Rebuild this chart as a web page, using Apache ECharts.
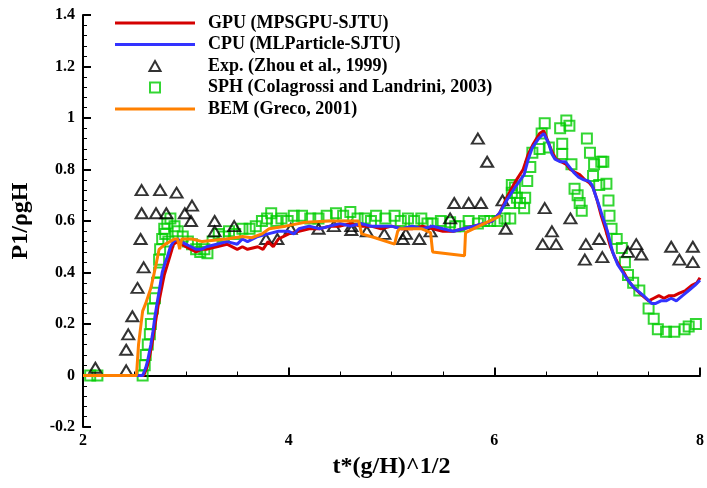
<!DOCTYPE html>
<html>
<head>
<meta charset="utf-8">
<script src="https://cdn.jsdelivr.net/npm/echarts@6/dist/echarts.min.js"></script>
<style>
  html, body { margin: 0; padding: 0; background: #fff; }
  #chart { width: 707px; height: 488px; }
</style>
</head>
<body>
<div id="chart"></div>
<script>
  // GPU (MPSGPU-SJTU), red line
  const gpuData = [[2.0,0],[2.3,0],[2.59,0],[2.62,0.03],[2.64,0.06],[2.67,0.12],[2.69,0.17],[2.71,0.22],[2.73,0.27],[2.76,0.33],[2.79,0.39],[2.82,0.43],[2.85,0.47],[2.88,0.51],[2.92,0.52],[2.96,0.51],[3.0,0.50],[3.05,0.49],[3.1,0.48],[3.15,0.49],[3.2,0.49],[3.3,0.50],[3.4,0.51],[3.5,0.49],[3.55,0.50],[3.6,0.49],[3.7,0.50],[3.75,0.49],[3.8,0.52],[3.85,0.50],[3.9,0.53],[4.0,0.55],[4.1,0.56],[4.2,0.57],[4.3,0.57],[4.4,0.58],[4.5,0.58],[4.6,0.59],[4.7,0.58],[4.8,0.58],[4.9,0.57],[5.0,0.58],[5.1,0.57],[5.2,0.57],[5.3,0.58],[5.4,0.57],[5.5,0.56],[5.6,0.56],[5.7,0.57],[5.8,0.58],[5.9,0.59],[5.98,0.60],[6.05,0.63],[6.12,0.69],[6.2,0.75],[6.28,0.80],[6.33,0.86],[6.38,0.90],[6.44,0.94],[6.48,0.95],[6.52,0.91],[6.56,0.87],[6.6,0.84],[6.65,0.83],[6.7,0.82],[6.74,0.80],[6.78,0.79],[6.83,0.78],[6.88,0.76],[6.92,0.75],[6.96,0.73],[7.0,0.68],[7.04,0.62],[7.08,0.57],[7.13,0.50],[7.17,0.46],[7.21,0.43],[7.26,0.40],[7.3,0.37],[7.36,0.34],[7.44,0.31],[7.5,0.29],[7.55,0.30],[7.6,0.31],[7.65,0.30],[7.7,0.31],[7.75,0.31],[7.8,0.32],[7.86,0.33],[7.92,0.35],[7.97,0.36],[8.0,0.38]];

  // CPU (MLParticle-SJTU), blue line
  const cpuData = [[2.0,0],[2.3,0],[2.58,0],[2.61,0.03],[2.63,0.06],[2.66,0.12],[2.68,0.17],[2.70,0.23],[2.72,0.28],[2.75,0.35],[2.77,0.40],[2.80,0.44],[2.82,0.46],[2.85,0.50],[2.88,0.52],[2.92,0.53],[2.95,0.52],[3.0,0.51],[3.05,0.50],[3.1,0.49],[3.15,0.49],[3.2,0.50],[3.3,0.51],[3.4,0.52],[3.5,0.51],[3.55,0.53],[3.6,0.52],[3.7,0.54],[3.8,0.55],[3.9,0.56],[4.0,0.56],[4.05,0.55],[4.1,0.57],[4.2,0.58],[4.3,0.57],[4.4,0.58],[4.5,0.59],[4.6,0.58],[4.7,0.59],[4.8,0.58],[4.9,0.58],[5.0,0.58],[5.1,0.57],[5.2,0.58],[5.3,0.57],[5.4,0.58],[5.5,0.57],[5.6,0.56],[5.7,0.57],[5.8,0.58],[5.9,0.59],[5.98,0.60],[6.05,0.63],[6.12,0.68],[6.2,0.73],[6.29,0.78],[6.33,0.84],[6.37,0.885],[6.43,0.92],[6.48,0.94],[6.53,0.90],[6.56,0.86],[6.59,0.84],[6.64,0.83],[6.69,0.83],[6.73,0.81],[6.77,0.79],[6.82,0.77],[6.87,0.76],[6.92,0.755],[6.95,0.74],[7.01,0.67],[7.05,0.62],[7.1,0.56],[7.15,0.48],[7.2,0.43],[7.25,0.40],[7.3,0.37],[7.36,0.34],[7.45,0.31],[7.53,0.28],[7.57,0.28],[7.62,0.29],[7.67,0.29],[7.72,0.30],[7.77,0.29],[7.83,0.31],[7.89,0.33],[7.95,0.35],[8.0,0.37]];

  // Exp. (Zhou et al., 1999), triangles
  const expData = [[2.12,0.03],[2.42,0.02],[2.42,0.10],[2.44,0.16],[2.48,0.23],[2.53,0.34],[2.59,0.42],[2.56,0.53],[2.57,0.63],[2.57,0.72],[2.71,0.63],[2.75,0.72],[2.81,0.63],[2.91,0.71],[2.99,0.63],[3.06,0.66],[3.05,0.60],[3.28,0.60],[3.28,0.56],[3.47,0.58],[3.78,0.53],[3.89,0.53],[4.02,0.57],[4.29,0.57],[4.44,0.58],[4.61,0.58],[4.61,0.565],[4.76,0.56],[4.93,0.55],[5.14,0.55],[5.11,0.53],[5.27,0.53],[5.38,0.56],[5.57,0.61],[5.61,0.67],[5.75,0.67],[5.87,0.67],[5.84,0.92],[5.93,0.83],[6.08,0.68],[6.11,0.57],[6.49,0.65],[6.56,0.56],[6.47,0.51],[6.60,0.51],[6.74,0.61],[6.89,0.51],[6.88,0.45],[7.02,0.53],[7.05,0.46],[7.30,0.48],[7.38,0.51],[7.43,0.47],[7.72,0.50],[7.80,0.45],[7.93,0.50],[7.93,0.44]];

  // SPH (Colagrossi and Landrini, 2003), squares
  const sphData = [[2.07,0],[2.14,0],[2.58,0],[2.60,0.04],[2.61,0.08],[2.63,0.12],[2.65,0.16],[2.66,0.20],[2.68,0.26],[2.70,0.30],[2.72,0.36],[2.74,0.40],[2.74,0.45],[2.75,0.49],[2.77,0.53],[2.79,0.57],[2.82,0.59],[2.85,0.61],[2.80,0.55],[2.83,0.52],[2.89,0.58],[2.92,0.56],[2.97,0.54],[3.02,0.52],[3.06,0.51],[3.10,0.49],[3.14,0.48],[3.18,0.49],[3.21,0.475],[3.26,0.52],[3.32,0.55],[3.37,0.54],[3.42,0.56],[3.48,0.55],[3.55,0.57],[3.62,0.57],[3.68,0.58],[3.74,0.60],[3.79,0.61],[3.83,0.63],[3.88,0.60],[3.93,0.61],[3.99,0.60],[4.05,0.62],[4.13,0.62],[4.21,0.61],[4.29,0.61],[4.37,0.62],[4.46,0.63],[4.53,0.62],[4.60,0.635],[4.67,0.61],[4.74,0.61],[4.80,0.60],[4.85,0.62],[4.94,0.61],[5.03,0.62],[5.09,0.60],[5.16,0.61],[5.22,0.60],[5.29,0.61],[5.35,0.59],[5.40,0.59],[5.48,0.60],[5.57,0.595],[5.62,0.58],[5.66,0.58],[5.75,0.60],[5.84,0.59],[5.90,0.60],[5.96,0.60],[6.03,0.60],[6.10,0.61],[6.15,0.67],[6.17,0.74],[6.155,0.61],[6.17,0.71],[6.20,0.73],[6.22,0.69],[6.25,0.67],[6.29,0.65],[6.30,0.69],[6.32,0.755],[6.35,0.81],[6.37,0.865],[6.44,0.88],[6.46,0.94],[6.49,0.98],[6.53,0.885],[6.64,0.96],[6.66,0.90],[6.66,0.86],[6.70,0.99],[6.73,0.97],[6.75,0.82],[6.78,0.725],[6.81,0.70],[6.83,0.67],[6.85,0.64],[6.90,0.92],[6.93,0.865],[6.97,0.82],[6.96,0.775],[7.04,0.83],[7.02,0.74],[7.06,0.83],[7.09,0.745],[7.11,0.68],[7.12,0.62],[7.14,0.57],[7.19,0.53],[7.24,0.495],[7.27,0.44],[7.30,0.39],[7.35,0.36],[7.41,0.33],[7.50,0.26],[7.55,0.22],[7.59,0.18],[7.67,0.17],[7.75,0.17],[7.85,0.18],[7.89,0.19],[7.96,0.20]];

  // BEM (Greco, 2001), orange line
  const bemData = [[2.0,0],[2.52,0],[2.54,0.12],[2.58,0.25],[2.61,0.28],[2.66,0.34],[2.71,0.43],[2.74,0.49],[2.80,0.51],[2.89,0.53],[2.92,0.53],[2.94,0.49],[2.96,0.53],[3.06,0.53],[3.16,0.52],[3.39,0.53],[3.55,0.54],[3.64,0.535],[3.74,0.55],[3.81,0.57],[3.97,0.58],[4.16,0.595],[4.40,0.60],[4.68,0.60],[4.71,0.55],[4.84,0.535],[5.03,0.51],[5.06,0.56],[5.08,0.57],[5.29,0.57],[5.38,0.555],[5.40,0.48],[5.71,0.465],[5.72,0.555],[5.90,0.59],[6.06,0.62]];

  const fontFamily = '"Liberation Serif", "Times New Roman", serif';
  // legend icons: path icons keep their aspect inside the 80x10 box
  const lineIcon = 'path://M0,0L80,0L80,3L0,3Z';
  const triIcon = 'path://M5,0L10,9L0,9Z';
  const sqIcon = 'path://M0,0L9,0L9,9L0,9Z';
  const chart = echarts.init(document.getElementById('chart'));

  chart.setOption({
    animation: false,
    backgroundColor: '#ffffff',
    grid: {
      left: 83,
      right: 4,
      top: 15,
      bottom: 61
    },
    legend: {
      orient: 'vertical',
      left: 115,
      top: 14,
      padding: 0,
      itemWidth: 80,
      itemHeight: 10,
      itemGap: 3.5,
      textStyle: {
        fontFamily: fontFamily,
        fontWeight: 'bold',
        fontSize: 18,
        color: '#000',
        padding: [0, 0, 0, 8]
      },
      data: [
        { name: 'GPU (MPSGPU-SJTU)', icon: lineIcon, itemStyle: { borderWidth: 0 } },
        { name: 'CPU (MLParticle-SJTU)', icon: lineIcon, itemStyle: { borderWidth: 0 } },
        { name: 'Exp. (Zhou et al., 1999)', icon: triIcon },
        { name: 'SPH (Colagrossi and Landrini, 2003)', icon: sqIcon },
        { name: 'BEM (Greco, 2001)', icon: lineIcon, itemStyle: { borderWidth: 0 } }
      ]
    },
    xAxis: {
      type: 'value',
      min: 2,
      max: 8,
      interval: 2,
      name: 't*(g/H)^1/2',
      nameLocation: 'middle',
      nameGap: 28,
      nameTextStyle: {
        fontFamily: fontFamily,
        fontWeight: 'bold',
        fontSize: 24,
        color: '#000'
      },
      axisLine: { lineStyle: { color: '#000', width: 2 } },
      axisTick: { inside: true, length: 8, lineStyle: { color: '#000', width: 2 } },
      minorTick: { show: true, splitNumber: 4, length: 4, lineStyle: { color: '#000', width: 1 } },
      axisLabel: {
        margin: 6,
        fontFamily: fontFamily,
        fontWeight: 'bold',
        fontSize: 16,
        color: '#000'
      },
      splitLine: { show: false }
    },
    yAxis: {
      type: 'value',
      min: -0.2,
      max: 1.4,
      interval: 0.2,
      name: 'P1/ρgH',
      nameLocation: 'middle',
      nameGap: 50,
      nameTextStyle: {
        fontFamily: fontFamily,
        fontWeight: 'bold',
        fontSize: 24,
        color: '#000'
      },
      axisLine: { show: true, lineStyle: { color: '#000', width: 2 } },
      axisTick: { show: true, inside: true, length: 8, lineStyle: { color: '#000', width: 2 } },
      minorTick: { show: true, splitNumber: 5, length: 4, lineStyle: { color: '#000', width: 1 } },
      axisLabel: {
        margin: 8,
        fontFamily: fontFamily,
        fontWeight: 'bold',
        fontSize: 16,
        color: '#000',
        formatter: function (v) { return String(Math.round(v * 10) / 10); }
      },
      splitLine: { show: false }
    },
    series: [{
      name: 'GPU (MPSGPU-SJTU)',
      type: 'line',
      symbol: 'none',
      lineStyle: { color: '#d40000', width: 3 },
      itemStyle: { color: '#d40000' },
      data: gpuData
    },{
      name: 'CPU (MLParticle-SJTU)',
      type: 'line',
      symbol: 'none',
      lineStyle: { color: '#3333ff', width: 3 },
      itemStyle: { color: '#3333ff' },
      data: cpuData
    },{
      name: 'SPH (Colagrossi and Landrini, 2003)',
      type: 'scatter',
      symbol: 'rect',
      symbolSize: 10,
      itemStyle: { color: 'rgba(255,255,255,0)', borderColor: '#00cc00', borderWidth: 2 },
      data: sphData
    },{
      name: 'BEM (Greco, 2001)',
      type: 'line',
      symbol: 'none',
      lineStyle: { color: '#ff8000', width: 3 },
      itemStyle: { color: '#ff8000' },
      data: bemData
    },{
      name: 'Exp. (Zhou et al., 1999)',
      type: 'scatter',
      symbol: 'triangle',
      symbolSize: [12, 10],
      itemStyle: { color: 'rgba(255,255,255,0)', borderColor: '#000', borderWidth: 2 },
      data: expData
    }]
  });
</script>
</body>
</html>
